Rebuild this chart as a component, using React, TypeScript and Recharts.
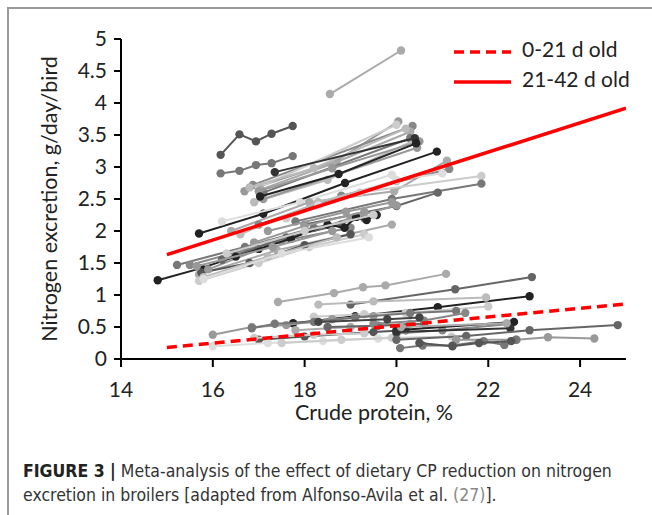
import React from "react";
import { ScatterChart, Scatter, XAxis, YAxis } from "recharts";

// x = crude protein (%), y = N excretion (g/day/bird)
const xTicks = [14, 16, 18, 20, 22, 24];
const yTicks = [0, 0.5, 1, 1.5, 2, 2.5, 3, 3.5, 4, 4.5, 5];

// 21-42 d old studies
const lateStudies: number[][][] = [
  [[18.55, 4.14], [20.1, 4.82]],
  [[16.17, 3.19], [16.58, 3.51], [16.94, 3.4], [17.28, 3.52], [17.74, 3.64]],
  [[16.17, 2.9], [16.58, 2.94], [16.94, 3.03], [17.28, 3.06], [17.74, 3.17]],
  [[16.69, 2.62], [18.7, 3.1], [20.04, 3.71]],
  [[16.87, 2.72], [20.35, 3.64]],
  [[17.0, 2.68], [20.0, 3.66]],
  [[17.05, 2.65], [18.6, 3.05], [20.3, 3.55]],
  [[17.1, 2.6], [20.3, 3.45]],
  [[16.9, 2.45], [18.5, 2.8], [20.4, 3.42]],
  [[17.1, 2.5], [20.45, 3.3]],
  [[16.8, 2.68], [18.2, 2.98], [20.2, 3.6]],
  [[17.0, 2.62], [18.6, 2.98], [20.5, 3.4]],
  [[17.35, 2.92], [20.4, 3.45]],
  [[17.03, 2.54], [18.74, 2.89], [20.43, 3.37]],
  [[15.7, 1.96], [17.1, 2.27], [18.88, 2.75], [20.88, 3.24]],
  [[16.2, 2.15], [17.9, 2.45], [19.9, 2.88]],
  [[16.4, 2.0], [18.1, 2.45], [19.95, 2.62], [21.1, 3.1]],
  [[17.0, 2.1], [18.8, 2.55], [21.15, 2.97]],
  [[17.6, 2.2], [19.2, 2.6], [21.85, 2.86]],
  [[17.8, 2.15], [19.9, 2.5], [21.85, 2.74]],
  [[18.0, 2.1], [20.0, 2.39], [20.9, 2.6]],
  [[17.2, 2.0], [18.9, 2.3], [19.9, 2.45]],
  [[16.6, 1.95], [18.3, 2.45], [20.0, 2.78]],
  [[18.3, 2.4], [20.0, 2.8], [21.0, 2.9]],
  [[14.8, 1.23], [15.75, 1.42], [17.0, 1.72]],
  [[15.22, 1.47], [16.7, 1.75], [18.2, 2.05], [19.3, 2.2]],
  [[15.5, 1.47], [17.2, 1.8], [19.0, 2.05]],
  [[15.7, 1.32], [17.4, 1.7], [19.9, 2.1]],
  [[15.7, 1.22], [17.0, 1.5], [18.1, 1.75], [19.3, 1.95]],
  [[15.75, 1.35], [16.8, 1.5], [18.0, 1.78], [19.0, 1.95]],
  [[15.9, 1.4], [17.5, 1.85], [19.0, 2.2], [20.0, 2.4]],
  [[16.2, 1.55], [17.6, 1.9], [18.8, 2.1]],
  [[16.5, 1.6], [17.7, 1.88], [18.5, 2.1], [18.87, 2.05], [19.12, 2.22], [19.35, 2.17], [19.57, 2.25]],
  [[15.8, 1.28], [17.2, 1.6], [18.7, 1.9]],
  [[16.9, 1.82], [18.0, 2.08], [19.3, 2.3]],
  [[15.8, 1.25], [17.5, 1.65], [19.4, 1.9]],
  [[15.65, 1.45], [17.3, 1.75], [18.6, 2.0]],
  [[16.3, 1.65], [18.0, 2.0], [19.5, 2.25]],
];

// 0-21 d old studies
const earlyStudies: number[][][] = [
  [[17.42, 0.89], [18.64, 1.03], [19.27, 1.12], [19.76, 1.15], [21.08, 1.33]],
  [[19.0, 0.85], [21.28, 1.09], [22.95, 1.28]],
  [[17.75, 0.56], [19.1, 0.67], [20.9, 0.81], [22.9, 0.98]],
  [[18.3, 0.85], [19.5, 0.9], [21.95, 0.96]],
  [[18.2, 0.66], [19.3, 0.7], [20.2, 0.72], [22.0, 0.82]],
  [[16.0, 0.38], [16.85, 0.5], [17.6, 0.53], [18.6, 0.62], [19.5, 0.67]],
  [[16.85, 0.48], [17.35, 0.55], [18.2, 0.58], [19.1, 0.65], [20.3, 0.72], [21.3, 0.75]],
  [[17.0, 0.3], [18.0, 0.35], [19.5, 0.42], [20.2, 0.45]],
  [[16.0, 0.2], [17.2, 0.25], [18.4, 0.28], [19.6, 0.32], [20.0, 0.35]],
  [[17.5, 0.25], [18.8, 0.3], [19.9, 0.33], [21.2, 0.35]],
  [[17.8, 0.45], [19.0, 0.5], [20.3, 0.55]],
  [[18.5, 0.5], [19.6, 0.52], [20.6, 0.55]],
  [[16.9, 0.33], [18.2, 0.38], [19.3, 0.4]],
  [[20.0, 0.4], [21.0, 0.45], [22.5, 0.55]],
  [[20.0, 0.45], [22.56, 0.58]],
  [[20.0, 0.42], [22.48, 0.48]],
  [[20.1, 0.5], [22.4, 0.56]],
  [[20.0, 0.3], [21.52, 0.36], [22.9, 0.45], [24.82, 0.53]],
  [[21.3, 0.3], [22.62, 0.3], [23.3, 0.34], [24.31, 0.32]],
  [[20.08, 0.17], [20.57, 0.21], [21.22, 0.21], [21.9, 0.28], [22.35, 0.22], [22.6, 0.3]],
  [[19.5, 0.55], [20.6, 0.6], [21.5, 0.72]],
  [[18.3, 0.58], [19.8, 0.62], [20.5, 0.65]],
  [[20.5, 0.25], [21.22, 0.2], [21.8, 0.25], [22.5, 0.28]],
];

const trendEarly = [[15, 0.18], [25, 0.86]];
const trendLate = [[15, 1.63], [25, 3.92]];

const lateShades = [
  "#aaa", "#555", "#777", "#999", "#888", "#ccc", "#aaa", "#777", "#bbb", "#999", "#bbb", "#999",
  "#333", "#222", "#222", "#ddd", "#aaa", "#888", "#ccc", "#777", "#666", "#999", "#bbb", "#ddd",
  "#222", "#777", "#888", "#aaa", "#ccc", "#555", "#999", "#666", "#222", "#bbb", "#999",
  "#ddd", "#999", "#ccc",
];
const earlyShades = [
  "#aaa", "#666", "#222", "#bbb", "#ccc", "#999", "#777", "#555", "#ddd", "#ccc",
  "#aaa", "#666", "#ccc",
  "#888", "#222", "#333", "#aaa", "#666", "#999", "#777", "#888", "#444", "#555",
];

const toPts = (arr: number[][]) => arr.map(([x, y]) => ({ x, y }));
const font = "Lato, sans-serif";

const dot = (color: string) => (p: any) => <circle cx={p.cx} cy={p.cy} r={4.2} fill={color} />;
const noDot = () => <g />;

export default function App() {
  const studies = [
    ...earlyStudies.map((s, i) => ({ pts: s, color: earlyShades[i] })),
    ...lateStudies.map((s, i) => ({ pts: s, color: lateShades[i] })),
  ];
  return (
    <div style={{ position: "absolute", left: 0, top: 0, width: 652, height: 515, background: "#fff" }}>
      <div
        style={{
          position: "absolute", left: 7, top: 7, width: 645, height: 508,
          borderLeft: "2px solid #999", borderTop: "2px solid #999",
        }}
      />
      <div style={{ position: "absolute", left: 0, top: 0 }}>
        <ScatterChart width={652} height={430} margin={{ top: 39, right: 26, bottom: 70, left: 120 }}>
          <XAxis
            type="number" dataKey="x" domain={[14, 25]} ticks={xTicks} height={1}
            allowDataOverflow axisLine={{ stroke: "#000", strokeWidth: 2 }}
            tickLine={{ stroke: "#000", strokeWidth: 2 }} tickSize={8} tickMargin={15}
            tick={{ fill: "#222", fontSize: 21, fontFamily: font }}
          />
          <YAxis
            type="number" dataKey="y" domain={[0, 5]} ticks={yTicks} width={1}
            allowDataOverflow axisLine={{ stroke: "#000", strokeWidth: 2 }}
            tickLine={{ stroke: "#000", strokeWidth: 2 }} tickSize={7} tickMargin={7}
            tick={{ fill: "#222", fontSize: 21, fontFamily: font }}
          />
          {studies.map((s, i) => (
            <Scatter
              key={i} data={toPts(s.pts)} fill={s.color}
              line={{ stroke: s.color, strokeWidth: 2 }} shape={dot(s.color)}
              isAnimationActive={false}
            />
          ))}
          <Scatter
            data={toPts(trendEarly)} fill="#f00" shape={noDot}
            line={{ stroke: "#f00", strokeWidth: 3.5, strokeDasharray: "10 6" }}
            isAnimationActive={false}
          />
          <Scatter
            data={toPts(trendLate)} fill="#f00" shape={noDot}
            line={{ stroke: "#f00", strokeWidth: 3.5 }}
            isAnimationActive={false}
          />
        </ScatterChart>
      </div>
      <svg width={652} height={430} style={{ position: "absolute", left: 0, top: 0, pointerEvents: "none" }}>
        <text
          x={52} y={199} transform="rotate(-90 52 199)" textAnchor="middle" dominantBaseline="middle"
          fontSize={21.5} fontFamily={font} fill="#222"
        >
          Nitrogen excretion, g/day/bird
        </text>
        <text x={374} y={415} textAnchor="middle" dominantBaseline="middle" fontSize={21.5} fontFamily={font} fill="#222">
          Crude protein, %
        </text>
        <line x1={454} y1={52} x2={511} y2={52} stroke="#f00" strokeWidth={3.5} strokeDasharray="10 6" />
        <text x={522} y={52} dominantBaseline="middle" fontSize={21} fontFamily={font} fill="#222">0-21 d old</text>
        <line x1={454} y1={82} x2={511} y2={82} stroke="#f00" strokeWidth={3.5} />
        <text x={522} y={82} dominantBaseline="middle" fontSize={21} fontFamily={font} fill="#222">21-42 d old</text>
      </svg>
      <div
        style={{
          position: "absolute", left: 23, top: 459, whiteSpace: "nowrap",
          fontFamily: '"DejaVu Sans Condensed", sans-serif',
          fontSize: 17.5, lineHeight: "24px", color: "#333",
        }}
      >
        <b style={{ color: "#222" }}>FIGURE 3 |</b> Meta-analysis of the effect of dietary CP reduction on nitrogen
        <br />
        excretion in broilers [adapted from Alfonso-Avila et al. <span style={{ color: "#888" }}>(27)</span>].
      </div>
    </div>
  );
}
